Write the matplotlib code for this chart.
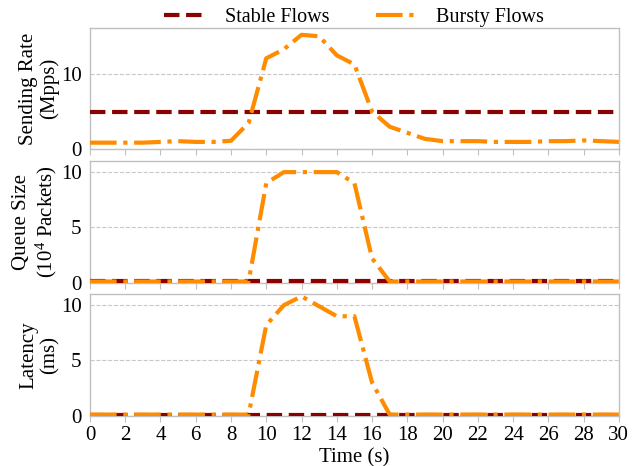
import matplotlib
matplotlib.use("Agg")
import matplotlib.pyplot as plt
import numpy as np

plt.rcParams['font.family'] = ['Liberation Serif', 'DejaVu Serif']
plt.rcParams['mathtext.fontset'] = 'custom'
plt.rcParams['mathtext.rm'] = 'Liberation Serif'
plt.rcParams['mathtext.it'] = 'Liberation Serif:italic'
plt.rcParams['font.size'] = 15

time = list(range(0, 31))

stable_rate = [5.0] * 31
bursty_rate = [0.9, 0.9, 0.9, 0.9, 1.0, 1.1, 1.0, 1.0, 1.15, 3.5,
               12.0, 13.2, 15.1, 14.9, 12.4, 11.2, 5.0, 3.0, 2.2, 1.4,
               1.1, 1.1, 1.1, 1.0, 1.0, 1.0, 1.1, 1.1, 1.2, 1.1, 1.0]

stable_queue = [0.1] * 31
bursty_queue = [0.1] * 10 + [9.0, 10.0, 10.0, 10.0, 10.0, 9.0, 2.2] + [0.1] * 14

stable_latency = [0.1] * 31
bursty_latency = [0.1] * 10 + [8.2, 10.0, 10.8, 9.9, 9.0, 9.0, 3.0] + [0.1] * 14

ylabels = ["Sending Rate\n(Mpps)", "Queue Size\n(10$^4$ Packets)", "Latency\n(ms)"]
yticks = [[0, 10], [0, 5, 10], [0, 5, 10]]
ylims = [(0, 16), (0, 11), (0, 11)]
xticks = list(range(0, 31, 2))

stable_color = '#8B0000'
bursty_color = '#FF8C00'

fig, axes = plt.subplots(3, 1, figsize=(6.38, 4.66), dpi=100, sharex=True)
fig.subplots_adjust(left=0.141, right=0.970, top=0.940, bottom=0.108, hspace=0.095)

series = [(stable_rate, bursty_rate), (stable_queue, bursty_queue), (stable_latency, bursty_latency)]

for i, ax in enumerate(axes):
    s, b = series[i]
    ax.plot(time, s, linestyle='--', color=stable_color, lw=3, label='Stable Flows', zorder=3)
    ax.plot(time, b, linestyle='-.', color=bursty_color, lw=3, label='Bursty Flows', zorder=4)
    ax.set_ylim(*ylims[i])
    ax.set_yticks(yticks[i])
    ax.set_xlim(0, 30)
    ax.set_xticks(xticks)
    ax.grid(axis='y', linestyle='--', color='#c8c8c8', lw=0.8)
    ax.set_axisbelow(True)
    for sp in ax.spines.values():
        sp.set_color('#c0c0c0')
        sp.set_linewidth(1.0)
    ax.tick_params(axis='y', length=0, pad=6, labelsize=15)
    ax.tick_params(axis='x', color='#c0c0c0', length=4, labelsize=15)
    ax.set_ylabel(ylabels[i], fontsize=15, linespacing=1.15, labelpad=1)

axes[-1].set_xlabel("Time (s)", fontsize=15, labelpad=2)
fig.align_ylabels(axes)

handles, labels = axes[0].get_legend_handles_labels()
fig.legend(handles, labels, loc='center', bbox_to_anchor=(0.555, 0.963), ncol=2,
           frameon=False, fontsize=14.5, columnspacing=2.3, handletextpad=1.0,
           borderaxespad=0)

fig.savefig("out.png", dpi=100)
